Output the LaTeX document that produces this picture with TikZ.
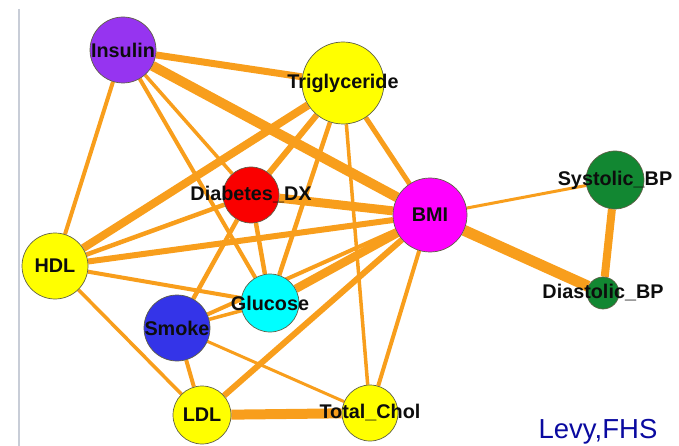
\documentclass[tikz,border=0pt]{standalone}
\usepackage{fontspec}
\setmainfont{Liberation Sans}
\usetikzlibrary{backgrounds}

\definecolor{edgeorange}{RGB}{248,158,28}
\definecolor{cPurple}{RGB}{150,52,240}
\definecolor{cYellow}{RGB}{255,255,0}
\definecolor{cRed}{RGB}{250,0,0}
\definecolor{cMagenta}{RGB}{255,0,255}
\definecolor{cGreen}{RGB}{18,135,50}
\definecolor{cCyan}{RGB}{0,255,255}
\definecolor{cBlue}{RGB}{52,52,232}
\definecolor{cBorder}{RGB}{95,95,70}
\definecolor{cRule}{RGB}{200,205,215}
\definecolor{cCredit}{RGB}{10,10,160}

\tikzset{
  vert/.style={circle, draw=cBorder, line width=0.7pt, inner sep=0pt, minimum size=#1},
  lab/.style={font=\fontsize{19.8}{19.8}\selectfont\bfseries, text=black!95, inner sep=0pt},
  link/.style={draw=edgeorange, line width=#1},
}

\begin{document}
\begin{tikzpicture}[x=1pt,y=-1pt]
\useasboundingbox (0,0) rectangle (679,446);

% left frame rule
\draw[cRule, line width=1.5pt] (19,9) -- (19,446);

% variables
\node[vert=66pt, fill=cPurple,  label={[lab]center:Insulin}]      (ins) at (123,50)  {};
\node[vert=82pt, fill=cYellow,  label={[lab]center:Triglyceride}] (tri) at (343,83)  {};
\node[vert=56pt, fill=cRed,     label={[lab]center:Diabetes\_DX}] (dia) at (251,195) {};
\node[vert=74pt, fill=cMagenta, label={[lab]center:BMI}]          (bmi) at (430,215) {};
\node[vert=58pt, fill=cGreen,   label={[lab]center:Systolic\_BP}] (sys) at (615,180) {};
\node[vert=32pt, fill=cGreen,   label={[lab]center:Diastolic\_BP}](dbp) at (603,293) {};
\node[vert=66pt, fill=cYellow,  label={[lab]center:HDL}]          (hdl) at (55,266)  {};
\node[vert=58pt, fill=cCyan,    label={[lab]center:Glucose}]      (glu) at (270,303) {};
\node[vert=66pt, fill=cBlue,    label={[lab]center:Smoke}]        (smk) at (177,328) {};
\node[vert=58pt, fill=cYellow,  label={[lab]center:LDL}]          (ldl) at (202,415) {};
\node[vert=56pt, fill=cYellow,  label={[lab]center:Total\_Chol}]  (tch) at (370,413) {};

% credit
\node[font=\fontsize{27.5}{27.5}\selectfont, text=cCredit, anchor=base, inner sep=0pt] (src) at (598,438) {Levy,FHS};

% associations, width ~ strength
\begin{pgfonlayer}{background}
  \draw[link=7]   (ins) -- (tri);
  \draw[link=10]  (ins) -- (bmi);
  \draw[link=4]   (ins) -- (hdl);
  \draw[link=4]   (ins) -- (glu);
  \draw[link=3.5] (ins) -- (dia);

  \draw[link=8]   (tri) -- (hdl);
  \draw[link=6]   (tri) -- (dia);
  \draw[link=4.5] (tri) -- (glu);
  \draw[link=3.5] (tri) -- (tch);
  \draw[link=5]   (tri) -- (bmi);

  \draw[link=9]   (dia) -- (bmi);
  \draw[link=4.5] (dia) -- (hdl);
  \draw[link=4.5] (dia) -- (glu);
  \draw[link=4.5] (dia) -- (smk);

  \draw[link=6]   (hdl) -- (bmi);
  \draw[link=4]   (hdl) -- (glu);
  \draw[link=3.5] (hdl) -- (ldl);

  \draw[link=3.5] (glu) -- (smk);
  \draw[link=8.5] (glu) -- (bmi);
  \draw[link=4]   (smk) -- (bmi);
  \draw[link=4]   (smk) -- (ldl);
  \draw[link=3]   (smk) -- (tch);

  \draw[link=6]   (ldl) -- (bmi);
  \draw[link=10]  (ldl) -- (tch);
  \draw[link=4]   (tch) -- (bmi);

  \draw[link=3]   (bmi) -- (sys);
  \draw[link=11]  (bmi) -- (dbp);
  \draw[link=8]   (sys) -- (dbp);
\end{pgfonlayer}
\end{tikzpicture}
\end{document}
